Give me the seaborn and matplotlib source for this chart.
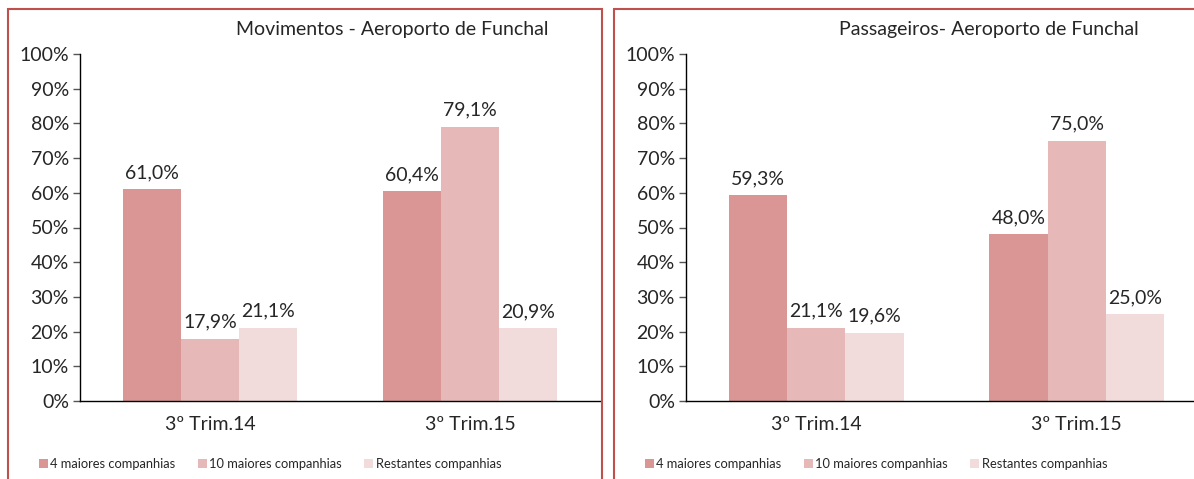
import seaborn as sns
import matplotlib.pyplot as plt
import matplotlib.patches as mpatches
import pandas as pd

sns.set_theme(style="white")
plt.rcParams["font.family"] = ["Lato", "DejaVu Sans"]

periods = ["3º Trim.14", "3º Trim.15"]
groups = ["4 maiores companhias", "10 maiores companhias", "Restantes companhias"]
colors = ["#D99694", "#E6B9B8", "#F2DCDB"]

# values in percent, per group, per period
mov_values = {
    "4 maiores companhias": [61.0, 60.4],
    "10 maiores companhias": [17.9, 79.1],
    "Restantes companhias": [21.1, 20.9],
}
pax_values = {
    "4 maiores companhias": [59.3, 48.0],
    "10 maiores companhias": [21.1, 75.0],
    "Restantes companhias": [19.6, 25.0],
}

titles = ["Movimentos - Aeroporto de Funchal", "Passageiros- Aeroporto de Funchal"]


def to_long(values):
    rows = []
    for g in groups:
        for p, v in zip(periods, values[g]):
            rows.append({"period": p, "group": g, "value": v / 100})
    return pd.DataFrame(rows)


W, H = 1194, 479
fig = plt.figure(figsize=(W / 100, H / 100), dpi=100)

# axes placements in pixels: (left, right)
ax_pos = [(80, 600), (686, 1207)]
title_x = [392, 989]
legend_x = [270, 876]
frames = [(8, 602), (614, 1200)]
y_top, y_bot = 54, 401
fs = 14

for i, values in enumerate([mov_values, pax_values]):
    x0, x1 = ax_pos[i]
    ax = fig.add_axes([x0 / W, (H - y_bot) / H, (x1 - x0) / W, (y_bot - y_top) / H])
    df = to_long(values)
    sns.barplot(data=df, x="period", y="value", hue="group", hue_order=groups,
                order=periods, palette=colors, width=0.67, gap=0,
                saturation=1, ax=ax, legend=True, edgecolor="none")
    ax.set_ylim(0, 1)
    ax.set_xlim(-0.5, 1.5)
    ax.set_yticks([k / 10 for k in range(11)])
    ax.set_yticklabels([f"{k * 10}%" for k in range(11)], fontsize=fs)
    ax.set_xlabel("")
    ax.set_ylabel("")
    ax.tick_params(axis="x", which="major", length=0, labelsize=fs, pad=11)
    ax.set_xticks([-0.5, 0.5, 1.5], minor=True)
    ax.tick_params(axis="x", which="minor", length=5, width=1, color="black", direction="out")
    ax.tick_params(axis="y", length=5, width=1, color="#555555", direction="out", left=True, pad=3)
    for s in ["top", "right"]:
        ax.spines[s].set_visible(False)
    ax.spines["left"].set_color("black")
    ax.spines["bottom"].set_color("black")
    ax.spines["left"].set_linewidth(1)
    ax.spines["bottom"].set_linewidth(1)

    for cont, g in zip(ax.containers, groups):
        labels = [f"{v:.1f}%".replace(".", ",") for v in values[g]]
        ax.bar_label(cont, labels=labels, padding=6, fontsize=fs)

    handles, labs = ax.get_legend_handles_labels()
    ax.get_legend().remove()
    fig.legend(handles, labs, loc="center", bbox_to_anchor=(legend_x[i] / W, 1 - 464 / H),
               ncol=3, frameon=False, fontsize=9.3, handlelength=0.7, handleheight=0.7,
               handletextpad=0.2, columnspacing=1.7)

    fig.text(title_x[i] / W, 1 - 30 / H, titles[i], ha="center", va="center", fontsize=fs)

    fx0, fx1 = frames[i]
    fig.patches.append(mpatches.Rectangle((fx0 / W, -0.05), (fx1 - fx0) / W, 1 - 9 / H + 0.05,
                                          transform=fig.transFigure, fill=False,
                                          edgecolor="#C0504D", linewidth=1.5))

plt.savefig("out.png", dpi=100)
plt.close()
